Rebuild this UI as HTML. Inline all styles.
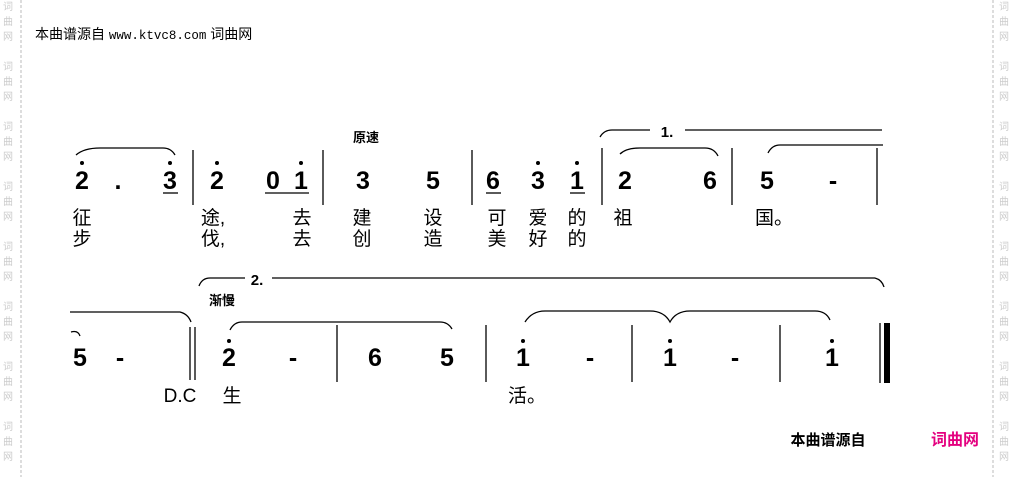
<!DOCTYPE html>
<html><head><meta charset="utf-8"><style>
html,body{margin:0;padding:0;background:#fff}
svg{display:block}
.n{font-family:"Liberation Sans",sans-serif;font-weight:bold;font-size:25px;text-anchor:middle}
.l{font-family:"Liberation Sans","Noto Sans CJK SC",sans-serif;font-size:19px;text-anchor:middle}
.w{font-family:"Noto Sans CJK SC",sans-serif;font-size:10px;fill:#ccc;text-anchor:middle}
</style></head><body>
<svg width="1015" height="477" viewBox="0 0 1015 477" xmlns="http://www.w3.org/2000/svg">
<line x1="21" y1="0" x2="21" y2="477" stroke="#bbb" stroke-dasharray="3,2"/>
<line x1="993" y1="0" x2="993" y2="477" stroke="#bbb" stroke-dasharray="3,2"/>
<g class="w">
<text x="8" y="10">词</text><text x="8" y="25">曲</text><text x="8" y="40">网</text>
<text x="8" y="70">词</text><text x="8" y="85">曲</text><text x="8" y="100">网</text>
<text x="8" y="130">词</text><text x="8" y="145">曲</text><text x="8" y="160">网</text>
<text x="8" y="190">词</text><text x="8" y="205">曲</text><text x="8" y="220">网</text>
<text x="8" y="250">词</text><text x="8" y="265">曲</text><text x="8" y="280">网</text>
<text x="8" y="310">词</text><text x="8" y="325">曲</text><text x="8" y="340">网</text>
<text x="8" y="370">词</text><text x="8" y="385">曲</text><text x="8" y="400">网</text>
<text x="8" y="430">词</text><text x="8" y="445">曲</text><text x="8" y="460">网</text>
<text x="1004" y="10">词</text><text x="1004" y="25">曲</text><text x="1004" y="40">网</text>
<text x="1004" y="70">词</text><text x="1004" y="85">曲</text><text x="1004" y="100">网</text>
<text x="1004" y="130">词</text><text x="1004" y="145">曲</text><text x="1004" y="160">网</text>
<text x="1004" y="190">词</text><text x="1004" y="205">曲</text><text x="1004" y="220">网</text>
<text x="1004" y="250">词</text><text x="1004" y="265">曲</text><text x="1004" y="280">网</text>
<text x="1004" y="310">词</text><text x="1004" y="325">曲</text><text x="1004" y="340">网</text>
<text x="1004" y="370">词</text><text x="1004" y="385">曲</text><text x="1004" y="400">网</text>
<text x="1004" y="430">词</text><text x="1004" y="445">曲</text><text x="1004" y="460">网</text>
</g>
<text x="35" y="39" style="font-family:'Liberation Sans','Noto Sans CJK SC',sans-serif;font-size:14px">本曲谱源自 <tspan style="font-family:'Liberation Mono',monospace;font-size:12.5px">www.ktvc8.com</tspan> 词曲网</text>
<text x="366" y="142" style="font-family:'Noto Sans CJK SC',sans-serif;font-size:13px;font-weight:bold;text-anchor:middle">原速</text>

<g class="n">
<text x="82" y="189">2</text><text x="118" y="189">.</text><text x="170" y="189">3</text>
<text x="217" y="189">2</text><text x="273" y="189">0</text><text x="301" y="189">1</text>
<text x="363" y="189">3</text><text x="433" y="189">5</text>
<text x="493" y="189">6</text><text x="538" y="189">3</text><text x="577" y="189">1</text>
<text x="625" y="189">2</text><text x="710" y="189">6</text>
<text x="767" y="189">5</text><text x="833" y="189">-</text>
<text x="80" y="366">5</text><text x="120" y="366">-</text>
<text x="229" y="366">2</text><text x="293" y="366">-</text>
<text x="375" y="366">6</text><text x="447" y="366">5</text>
<text x="523" y="366">1</text><text x="590" y="366">-</text>
<text x="670" y="366">1</text><text x="735" y="366">-</text>
<text x="832" y="366">1</text>
</g>
<g fill="#000">
<circle cx="82" cy="163" r="2"/><circle cx="170" cy="163" r="2"/><circle cx="217" cy="163" r="2"/><circle cx="301" cy="163" r="2"/><circle cx="538" cy="163" r="2"/><circle cx="577" cy="163" r="2"/>
<circle cx="229" cy="341" r="2"/><circle cx="523" cy="341" r="2"/><circle cx="670" cy="341" r="2"/><circle cx="832" cy="341" r="2"/>
</g>
<g stroke="#000" stroke-width="1.3" fill="none">
<line x1="163" y1="193" x2="178" y2="193"/><line x1="265" y1="193" x2="309" y2="193"/>
<line x1="486" y1="193" x2="501" y2="193"/><line x1="570" y1="193" x2="585" y2="193"/>
<line x1="193" y1="150" x2="193" y2="205"/><line x1="323" y1="150" x2="323" y2="205"/>
<line x1="472" y1="150" x2="472" y2="205"/><line x1="602" y1="148" x2="602" y2="205"/>
<line x1="732" y1="148" x2="732" y2="205"/><line x1="877" y1="148" x2="877" y2="205"/>
<path d="M76 155 Q84 148 100 148 L163 148 Q171 148 175 155"/>
<path d="M620 154 Q626 148 640 148 L705 148 Q714 148 718 156"/>
<path d="M768 153 Q772 145 780 145 L883 145"/>
<path d="M600 137 Q604 130 612 130 L650 130"/><line x1="685" y1="130" x2="882" y2="130"/>
<path d="M70 312 L180 312 Q188 314 191 322"/><path d="M71 332 Q78 330 80 336"/>
<line x1="190" y1="327" x2="190" y2="380"/><line x1="195" y1="327" x2="195" y2="380"/>
<path d="M199 286 Q202 278 210 278 L245 278"/><line x1="272" y1="278" x2="875" y2="278"/><path d="M875 278 Q882 280 884 287"/>
<path d="M230 330 Q234 322 242 322 L440 322 Q448 322 452 329"/>
<line x1="337" y1="325" x2="337" y2="382"/><line x1="486" y1="325" x2="486" y2="382"/>
<line x1="632" y1="325" x2="632" y2="382"/><line x1="780" y1="325" x2="780" y2="382"/>
<path d="M525 322 Q532 311 545 311 L650 311 Q664 311 670 322 Q676 311 690 311 L815 311 Q826 311 830 320"/>
<line x1="880" y1="323" x2="880" y2="383"/>
</g>
<rect x="884" y="323" width="6" height="60" fill="#000"/>
<g class="l">
<text x="82" y="224">征</text><text x="213" y="224">途,</text><text x="302" y="224">去</text><text x="362" y="224">建</text><text x="433" y="224">设</text><text x="497" y="224">可</text><text x="538" y="224">爱</text><text x="577" y="224">的</text><text x="623" y="224">祖</text><text x="774" y="224">国。</text>
<text x="82" y="245">步</text><text x="213" y="245">伐,</text><text x="302" y="245">去</text><text x="362" y="245">创</text><text x="433" y="245">造</text><text x="497" y="245">美</text><text x="538" y="245">好</text><text x="577" y="245">的</text>
<text x="180" y="402">D.C</text><text x="232" y="402">生</text><text x="527" y="402">活。</text>
</g>
<text x="257" y="285" style="font-family:'Liberation Sans',sans-serif;font-weight:bold;font-size:15px;text-anchor:middle">2.</text>
<text x="667" y="137" style="font-family:'Liberation Sans',sans-serif;font-weight:bold;font-size:15px;text-anchor:middle">1.</text>
<text x="222" y="305" style="font-family:'Noto Sans CJK SC',sans-serif;font-size:13px;font-weight:bold;text-anchor:middle">渐慢</text>
<text x="828" y="445" style="font-family:'Noto Sans CJK SC',sans-serif;font-size:15px;font-weight:bold;text-anchor:middle">本曲谱源自</text>
<text x="955" y="445" style="font-family:'Noto Sans CJK SC',sans-serif;font-size:16px;font-weight:bold;fill:#e4007f;text-anchor:middle">词曲网</text>
</svg>
</body></html>
